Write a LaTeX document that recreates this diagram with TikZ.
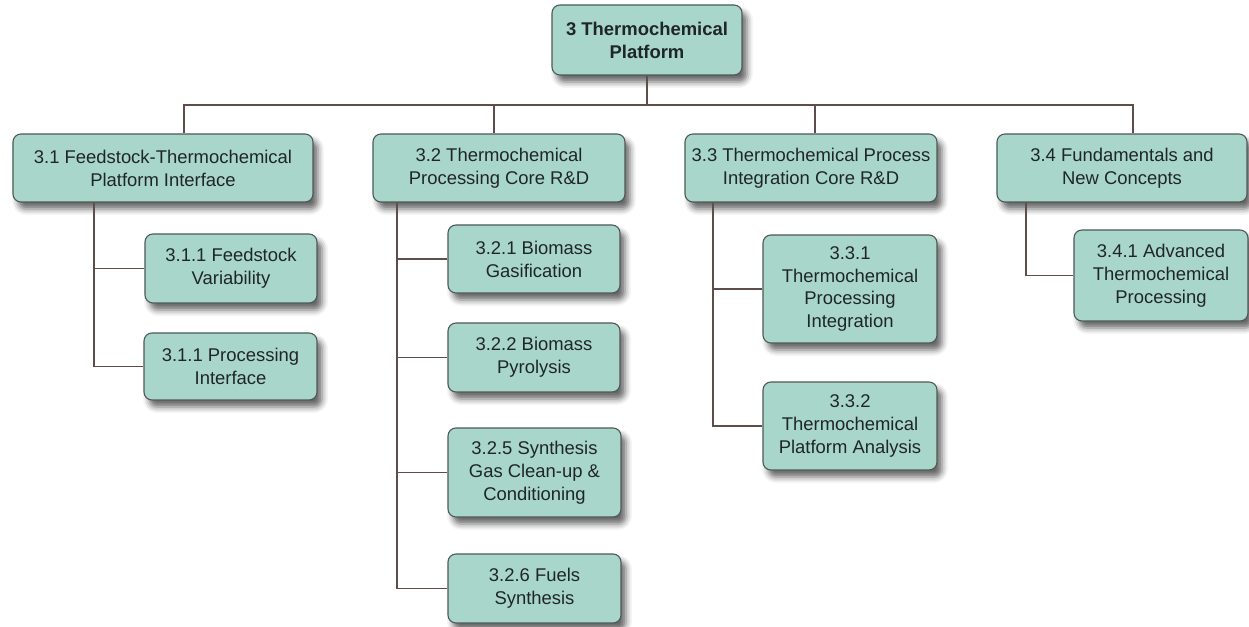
\documentclass[tikz,border=0pt]{standalone}
\usepackage{fontspec}
\setmainfont{Liberation Sans}
\usepackage{xcolor}
\usepackage{tikz}
\usetikzlibrary{shadows.blur, positioning}
\definecolor{boxfill}{HTML}{A9D6CB}
\definecolor{boxedge}{HTML}{4F5957}
\definecolor{linkcol}{HTML}{5E4E4A}
\definecolor{inktext}{HTML}{1F2626}

\begin{document}
\begin{tikzpicture}[
  x=1bp, y=-1bp,
  wbsbox/.style  = {draw=boxedge, fill=boxfill, line width=1.1bp, rounded corners=8bp, align=center, text=inktext,
                    font=\fontsize{18.5}{23}\selectfont, inner sep=0pt,
                    blur shadow={shadow xshift=5bp, shadow yshift=-7bp, shadow blur radius=6bp, shadow opacity=60}},
  topbox/.style  = {wbsbox, font=\fontsize{18.5}{23}\selectfont\bfseries},
  link/.style    = {draw=linkcol, line width=1.1bp},
]
\useasboundingbox (0,0) rectangle (1249,627);
\node[topbox, minimum width=190bp, minimum height=70bp] (top) at (647,40) {3 Thermochemical\\Platform};
\node[wbsbox, minimum width=300bp, minimum height=68bp] (l1a) at (163,168) {3.1 Feedstock-Thermochemical\\Platform Interface};
\node[wbsbox, minimum width=252bp, minimum height=68bp] (l1b) at (499,168) {3.2 Thermochemical\\Processing Core R\&D};
\node[wbsbox, minimum width=252bp, minimum height=68bp] (l1c) at (811,168) {3.3 Thermochemical Process\\Integration Core R\&D};
\node[wbsbox, minimum width=250bp, minimum height=68bp] (l1d) at (1122,168) {3.4 Fundamentals and\\New Concepts};
\node[wbsbox, minimum width=172bp, minimum height=69bp] (c311) at (231,268.5) {3.1.1 Feedstock\\Variability};
\node[wbsbox, minimum width=173bp, minimum height=67bp] (c312) at (230.5,366.5) {3.1.1 Processing\\Interface};
\node[wbsbox, minimum width=172bp, minimum height=68bp] (c321) at (534,259) {3.2.1 Biomass\\Gasification};
\node[wbsbox, minimum width=172bp, minimum height=69bp] (c322) at (534,357.5) {3.2.2 Biomass\\Pyrolysis};
\node[wbsbox, minimum width=173bp, minimum height=89bp] (c325) at (534.5,472.5) {3.2.5 Synthesis\\Gas Clean-up \&\\Conditioning};
\node[wbsbox, minimum width=173bp, minimum height=69bp] (c326) at (534.5,588.5) {3.2.6 Fuels\\Synthesis};
\node[wbsbox, minimum width=174bp, minimum height=108bp] (c331) at (850,289) {3.3.1\\Thermochemical\\Processing\\Integration};
\node[wbsbox, minimum width=174bp, minimum height=88bp] (c332) at (850,426) {3.3.2\\Thermochemical\\Platform Analysis};
\node[wbsbox, minimum width=174bp, minimum height=91bp] (c341) at (1161,275.5) {3.4.1 Advanced\\Thermochemical\\Processing};
\coordinate (bus) at (647,105);
\draw[link] (top.south) -- (bus);
\draw[link] ([xshift=21bp]l1a.north) |- (bus);
\draw[link] ([xshift=-5bp]l1b.north) |- (bus);
\draw[link] ([xshift=4bp]l1c.north) |- (bus);
\draw[link] ([xshift=11bp]l1d.north) |- (bus);
\draw[link] ([xshift=-69bp]l1a.south) |- (c311.west);
\draw[link] ([xshift=-69bp]l1a.south) |- (c312.west);
\draw[link] ([xshift=-102bp]l1b.south) |- (c321.west);
\draw[link] ([xshift=-102bp]l1b.south) |- (c322.west);
\draw[link] ([xshift=-102bp]l1b.south) |- (c325.west);
\draw[link] ([xshift=-102bp]l1b.south) |- (c326.west);
\draw[link] ([xshift=-98bp]l1c.south) |- (c331.west);
\draw[link] ([xshift=-98bp]l1c.south) |- (c332.west);
\draw[link] ([xshift=-96bp]l1d.south) |- (c341.west);
\end{tikzpicture}
\end{document}
